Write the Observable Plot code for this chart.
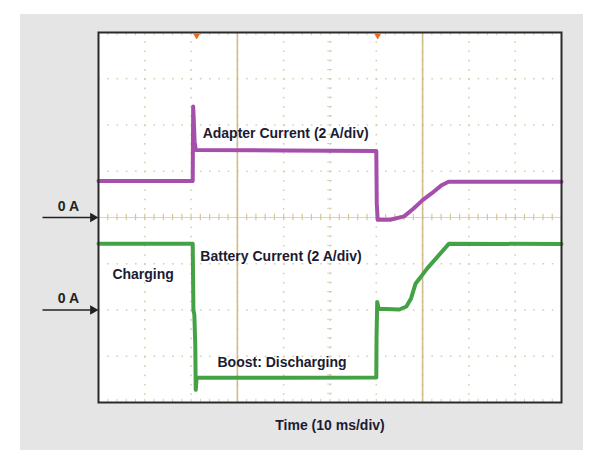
<!DOCTYPE html>
<html>
<head>
<meta charset="utf-8">
<script src="https://cdn.jsdelivr.net/npm/d3@7"></script>
<script src="https://cdn.jsdelivr.net/npm/@observablehq/plot@0.6"></script>
<style>
  html, body { margin: 0; padding: 0; background: #ffffff; }
  #wrap { position: relative; width: 600px; height: 467px; overflow: hidden; }
  #panel { position: absolute; left: 20px; top: 14px; width: 563px; height: 436px; background: #e5e5e5; }
  #chart { position: absolute; left: 0; top: 0; }
</style>
</head>
<body>
<div id="wrap"><div id="panel"></div><div id="chart"></div></div>
<script>
// ---- Data (time in ms, current in A) ----
const adapterTime = [0, 20.35, 20.45, 20.6, 20.75, 21.0, 40, 60.0, 60.1, 60.3, 63, 66, 68, 70, 72, 74, 75.6, 100];
const adapterAmps = [1.58, 1.58, 4.8, 4.1, 3.3, 2.92, 2.9, 2.88, 0.6, -0.1, -0.1, 0.05, 0.38, 0.75, 1.05, 1.38, 1.55, 1.55];

const batteryTime = [0, 20.35, 20.5, 20.7, 20.9, 21.0, 21.2, 40, 60.0, 60.05, 60.2, 60.5, 65, 66.5, 67.5, 68.5, 69.5, 71, 73.2, 75.7, 100];
const batteryAmps = [2.86, 2.86, 0.0, -0.2, -1.5, -3.45, -2.92, -2.93, -2.92, -1.2, 0.35, 0.05, 0.02, 0.15, 0.5, 1.15, 1.4, 1.8, 2.3, 2.87, 2.85];

// each trace is shown at its own zero (in divisions), 2 A per division
const seriesNames = ["Adapter Current", "Battery Current"];
const seriesZeroDiv = [0, -2];
const ampsPerDiv = 2;
const seriesColors = ["#a54fab", "#45a145"];

// annotations: text, time (ms), level (A) relative to the trace named
const labelText = ["Adapter Current (2 A/div)", "Battery Current (2 A/div)", "Charging", "Boost: Discharging"];
const labelTime = [22.5, 22.0, 3.0, 25.7];
const labelAmps = [3.64, 2.32, 1.52, -2.28];
const labelSeries = [0, 1, 1, 1];

const xTitle = "Time (10 ms/div)";
const zeroLabel = "0 A";
const cursorTimes = [30, 70];
const triggerTimes = [21.2, 60.3];

// ---- build tables ----
const toDiv = (a, s) => a / ampsPerDiv + seriesZeroDiv[s];
const adapter = adapterTime.map((t, i) => ({t, div: toDiv(adapterAmps[i], 0)}));
const battery = batteryTime.map((t, i) => ({t, div: toDiv(batteryAmps[i], 1)}));
const labels = labelText.map((text, i) => ({text, t: labelTime[i], div: toDiv(labelAmps[i], labelSeries[i])}));
const zeros = seriesZeroDiv.map(d => ({div: d}));

const gridColor = "#d9cfae";
const font = "Liberation Sans, Arial, Helvetica, sans-serif";
const textColor = "#1b1b33";

const chart = Plot.plot({
  width: 600,
  height: 467,
  marginLeft: 98,
  marginRight: 39,
  marginTop: 32,
  marginBottom: 65,
  style: {background: "transparent", overflow: "visible", fontFamily: font},
  x: {domain: [0, 100], axis: null},
  y: {domain: [-4, 4], axis: null},
  marks: [
    Plot.frame({fill: "white", stroke: null}),
    // dotted division grid
    Plot.ruleX(d3.range(10, 100, 10), {stroke: gridColor, strokeWidth: 1.6, strokeDasharray: "1.6,7.66"}),
    Plot.ruleY(d3.range(-3, 4, 1).filter(d => d !== 0), {stroke: gridColor, strokeWidth: 1.6, strokeDasharray: "1.6,7.66"}),
    // center horizontal axis with minor ticks
    Plot.ruleY([0], {stroke: "#e2d3a8", strokeWidth: 1.2}),
    Plot.ruleX(d3.range(0, 100.01, 2), {y1: -0.07, y2: 0.07, stroke: "#d8c796", strokeWidth: 1.2}),
    // center vertical minor ticks
    Plot.ruleY(d3.range(-4, 4.01, 0.2), {x1: 49.5, x2: 50.5, stroke: gridColor, strokeWidth: 1}),
    // edge minor ticks
    Plot.ruleX(d3.range(0, 100.01, 2), {y1: -4, y2: -3.93, stroke: gridColor, strokeWidth: 1}),
    Plot.ruleX(d3.range(0, 100.01, 2), {y1: 3.93, y2: 4, stroke: gridColor, strokeWidth: 1}),
    // cursors
    Plot.ruleX(cursorTimes, {stroke: "#d3bc8b", strokeWidth: 1.6}),
    // traces
    Plot.line(adapter, {x: "t", y: "div", stroke: seriesColors[0], strokeWidth: 4, strokeLinejoin: "round"}),
    Plot.line(battery, {x: "t", y: "div", stroke: seriesColors[1], strokeWidth: 4, strokeLinejoin: "round"}),
    Plot.frame({stroke: "#2a2a2a", strokeWidth: 2}),
    // trigger markers
    Plot.dot(triggerTimes, {x: d => d, y: () => 4, symbol: "triangle", rotate: 180, fill: "#ec6a1c", stroke: null, r: 2.6, dy: 3}),
    // labels
    Plot.text(labels, {x: "t", y: "div", text: "text", textAnchor: "start", fontSize: 14, fontWeight: "bold", fill: textColor}),
    Plot.text([xTitle], {x: () => 50, y: () => -4, text: d => d, dy: 23, fontSize: 14, fontWeight: "bold", fill: textColor, clip: false}),
    // zero arrows
    Plot.link(zeros, {x1: () => -12.1, x2: () => -1.2, y1: "div", y2: "div", stroke: "#222", strokeWidth: 1.4}),
    Plot.dot(zeros, {x: () => -1.2, y: "div", symbol: "triangle", rotate: 90, r: 3.6, fill: "#222", stroke: null}),
    Plot.text(zeros, {x: () => -6.5, y: "div", text: () => zeroLabel, dy: -11, fontSize: 14, fontWeight: "bold", fill: "#222"})
  ]
});
document.getElementById("chart").appendChild(chart);
</script>
</body>
</html>
